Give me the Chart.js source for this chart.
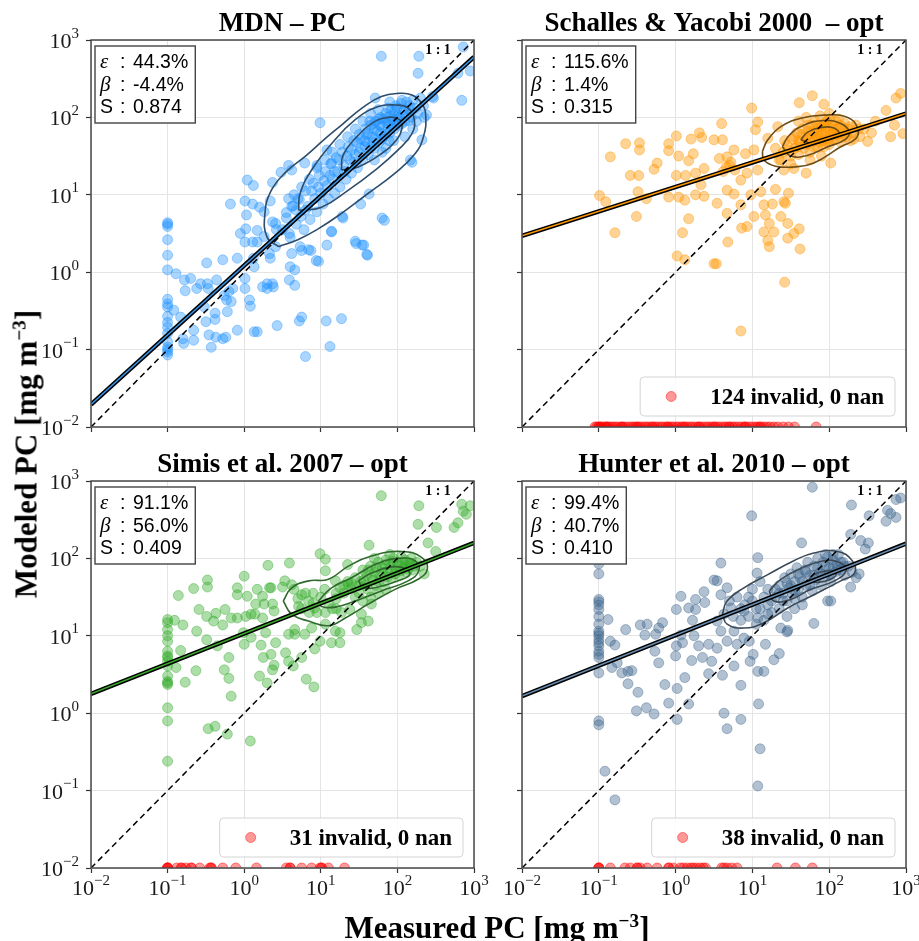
<!DOCTYPE html>
<html>
<head>
<meta charset="utf-8">
<script src="https://cdn.jsdelivr.net/npm/chart.js@4/dist/chart.umd.min.js"></script>
<style>
  html, body { margin: 0; padding: 0; background: #fff; overflow: hidden; }
  #page { position: relative; width: 919px; height: 941px; overflow: hidden; }
  canvas { position: absolute; }
  .axis-label {
    position: absolute; font-family: "Liberation Serif", serif; font-weight: bold;
    font-size: 31px; line-height: 31px; white-space: nowrap; color: #000;
  }
  .axis-label sup { font-size: 0.62em; line-height: 0; vertical-align: 0.55em; }
</style>
</head>
<body>
<div id="page">
  <canvas id="c0" width="494" height="441" style="left:0;top:0"></canvas>
  <canvas id="c1" width="500" height="441" style="left:431px;top:0"></canvas>
  <canvas id="c2" width="494" height="500" style="left:0;top:441px"></canvas>
  <canvas id="c3" width="500" height="500" style="left:431px;top:441px"></canvas>
  <div class="axis-label" style="left:497px;top:927px;transform:translate(-50%,-50%)">Measured PC [mg m<sup>−3</sup>]</div>
  <div class="axis-label" style="left:26px;top:454px;transform:translate(-50%,-50%) rotate(-90deg)">Modeled PC [mg m<sup>−3</sup>]</div>
</div>
<script>
// axis ticks (both axes, log scale)
const tickVals = [0.01, 0.1, 1, 10, 100, 1000];

const panelTitles = ["MDN – PC", "Schalles & Yacobi 2000  – opt", "Simis et al. 2007 – opt", "Hunter et al. 2010 – opt"];
const epsLabels = ["44.3%", "115.6%", "91.1%", "99.4%"];
const betaLabels = ["-4.4%", "1.4%", "56.0%", "40.7%"];
const slopeLabels = ["0.874", "0.315", "0.409", "0.410"];
const invalidCounts = [0, 124, 31, 38];
const nanCounts = [0, 0, 0, 0];

// all point values below are [log10 measured, log10 modeled]
const oneToOne = [[-2, -2], [3, 3]];

const mdnPts = [
  [-1,0.64],[-1,0.62],[-1,0.59],[-1,0.42],[-1,0.22],[-1,0.03],[-1,-0.35],[-1,-0.41],[-1,-0.45],[-1,-0.57],
  [-1,-0.65],[-1,-0.71],[-1,-0.79],[-1,-0.9],[-1,-0.97],[-1,-1.0],[-1,-1.03],[-1,-1.07],
  [-0.89,-0.02],[-0.78,-0.1],[-0.7,-0.08],[-0.77,-0.24],[-0.92,-0.49],[-0.83,-0.58],[-0.8,-0.86],[-0.79,-0.92],
  [-0.66,-0.75],[-0.66,-0.88],[-0.62,-0.21],[-0.57,-0.15],[-0.48,-0.15],[-0.47,-0.21],[-0.49,0.12],[-0.36,-0.1],
  [-0.28,0.16],[-0.52,-0.45],[-0.5,-0.64],[-0.46,-0.81],[-0.43,-0.97],[-0.37,-0.84],[-0.28,-0.86],[-0.24,-0.84],
  [-0.38,-0.53],[-0.38,-0.61],[-0.26,-0.3],[-0.23,-0.36],[-0.2,-0.25],[-0.15,-0.21],[-0.17,-0.38],[-0.22,-0.51],
  [-0.09,-0.75],[-0.09,0.18],[0.01,-0.08],[0.01,-0.21],[0.07,-0.36],[0.08,-0.44],[0.13,-0.77],[0.17,-0.77],
  [0.04,1.19],[0.12,1.12],[-0.18,0.88],[0.01,0.92],[0.11,0.88],[0.03,0.74],[-0.05,0.5],[0.01,0.39],[0.02,0.56],
  [0.12,0.18],[0.13,0.07],[0.17,0.54],[0.11,0.39],[0.17,0.39],[0.24,-0.19],[0.3,-0.15],[0.37,-0.15],[0.38,-0.19],
  [0.3,-0.21],[0.43,-0.69],[0.33,0.24],[0.34,0.18],[0.41,0.33],[0.37,1.16],[0.34,0.92],[0.26,0.78],[0.2,0.84],
  [0.37,0.65],[0.41,0.63],[0.26,0.46],[0.48,1.29],
  [1.79,2.79],[2.28,2.79],[2.86,2.91],[2.79,2.57],[2.95,2.6],[2.84,2.22],[2.27,2.57],[2.46,2.27],[0.99,1.93],
  [1.83,0.67],[1.46,0.37],[1.56,0.35],[1.61,0.22],[0.97,0.14],[1.08,0.35],[0.87,0.28],[0.75,0.28],[0.62,0.24],
  [0.6,0.07],[0.66,0.03],[0.59,-0.1],[0.66,-0.17],[0.75,-0.58],[0.72,-0.63],[1.07,-0.63],[1.27,-0.6],[1.12,-0.96],
  [0.8,-1.09],[1.14,0.53],[1.29,0.7],[1.52,0.88],[1.63,1.01],[2.19,1.42],[2.32,1.71],[2.38,2.03],[2.47,2.25],
  [1.9,2.2],[1.71,2.25],[2.06,2.22],[0.58,1.38],[0.62,1.32],[0.79,1.41],[0.95,1.38],[1.08,1.58],[1.14,1.41],
  [0.42,0.55],[0.55,0.77],[0.64,0.86],[0.72,0.94],[0.59,0.5],[0.73,0.33],[0.84,0.29],[0.94,0.15],[1.14,0.52],
  [1.28,0.72],[1.45,0.4],[1.54,0.35],[1.6,0.23],[1.8,0.7],[2.17,1.45],
  [0.5,0.55],[0.55,0.7],[0.6,0.45],[0.62,0.85],[0.68,0.62],[0.7,0.95],[0.74,0.72],[0.78,0.55],[0.8,1.05],
  [0.83,0.85],[0.86,0.68],[0.9,1.15],[0.92,0.95],[0.95,0.78],[0.98,1.25],[1.0,1.02],[1.03,0.88],[1.06,1.3],
  [1.08,1.12],[1.1,0.95],[1.13,1.4],[1.15,1.2],[1.18,1.02],[1.2,1.48],[1.22,1.3],[1.25,1.1],[1.28,1.55],
  [1.3,1.38],[1.33,1.2],[1.36,1.62],[1.38,1.45],[1.4,1.28],[1.43,1.7],[1.45,1.52],[1.48,1.35],[1.5,1.78],
  [1.52,1.6],[1.55,1.45],[1.58,1.85],[1.6,1.68],[1.62,1.52],[1.65,1.9],[1.67,1.75],[1.7,1.6],[1.72,1.95],
  [1.74,1.82],[1.76,1.68],[1.78,2.0],[1.8,1.88],[1.82,1.75],[1.85,2.05],[1.87,1.92],[1.9,1.8],[1.92,2.1],
  [1.94,1.98],[1.96,1.85],[1.98,2.15],[2.0,2.02],[2.02,1.9],[2.05,2.18],[2.07,2.06],[2.1,1.95],[2.12,2.2],
  [2.15,2.1],[2.18,2.0],[2.2,2.22],[2.23,2.12],[2.26,2.05],[2.3,2.25],[2.34,2.15],[1.55,1.95],[1.65,2.05],
  [1.75,2.1],[1.85,1.6],[1.95,1.7],[1.45,1.85],[1.35,1.75],[1.25,1.65],[1.15,1.55],[1.05,1.45],[0.95,1.35],
  [0.85,1.2],[0.75,1.1],[0.65,1.0],[0.58,0.95],[1.7,1.45],[1.8,1.55],[2.1,1.75],[2.2,1.85],[2.35,2.0],
  [1.6,1.78],[1.7,1.85],[1.8,1.72],[1.9,1.95],[2.0,1.98],[1.88,1.88],[1.78,1.8],[1.68,1.68],[1.58,1.62],
  [1.52,1.72],[1.57,1.7],[1.62,1.8],[1.66,1.62],[1.69,1.92],[1.73,1.72],[1.77,1.9],[1.81,1.98],[1.84,1.78],
  [1.86,2.0],[1.89,1.7],[1.91,2.02],[1.93,1.88],[1.97,2.08],[1.99,1.92],[2.03,2.0],[2.06,1.92],[2.09,2.1],
  [2.11,2.03],[2.14,1.96],[2.16,2.15],[1.4,1.58],[1.44,1.42],[1.47,1.68],[1.5,1.55],[1.34,1.5],[1.31,1.3],
  [1.24,1.45],[1.18,1.3],[1.12,1.25],[1.04,1.18],[0.97,1.1],[0.88,1.05],[0.8,0.8],[0.68,0.8],[1.88,2.12],
  [2.0,2.12],[1.76,1.98],[1.64,1.95],[2.25,1.95]
];
const mdnFit = [[-2, -1.71], [3, 2.78]];
const mdnContours = [
  [[0.45,0.33],[0.7,0.42],[0.95,0.55],[1.27,0.76],[1.62,1.02],[1.97,1.28],[2.23,1.53],[2.34,1.75],[2.37,2.01],
   [2.32,2.18],[2.19,2.29],[2.01,2.31],[1.79,2.27],[1.55,2.13],[1.27,1.9],[1.05,1.72],[0.8,1.5],[0.55,1.3],
   [0.35,1.05],[0.27,0.75],[0.3,0.45]],
  [[0.71,0.8],[1.01,0.84],[1.36,1.06],[1.71,1.32],[2.01,1.58],[2.19,1.79],[2.22,1.97],[2.14,2.12],[1.97,2.16],
   [1.75,2.14],[1.45,1.97],[1.14,1.66],[0.88,1.32],[0.73,1.02]],
  [[1.27,1.32],[1.49,1.36],[1.79,1.53],[1.99,1.71],[2.06,1.86],[2.03,1.97],[1.88,2.0],[1.66,1.92],[1.45,1.73],[1.29,1.51]]
];
const mdnInvalid = [];

const syPts = [
  [-0.85,1.49],[-0.65,1.66],[-0.47,1.67],[-0.47,1.58],[-0.59,1.25],[-0.48,1.25],[-0.28,1.33],[-0.24,1.41],
  [-0.99,0.99],[-0.91,0.91],[-0.49,1.04],[-0.38,0.95],[-0.51,0.72],[-0.79,0.51],[-0.09,1.66],[-0.09,1.57],
  [0.01,1.76],[0.04,1.5],[0.2,1.72],[0.31,1.8],[0.34,1.74],[0.23,1.53],[0.17,1.44],[0.01,1.25],[0.13,1.25],
  [0.26,1.28],[0.37,1.34],[0.33,1.13],[-0.09,0.97],[0.04,0.97],[0.12,0.93],[0.26,1.0],[0.37,0.98],[0.17,0.69],
  [0.09,0.51],[0.02,0.21],[0.12,0.16],[0.5,1.71],[0.5,0.11],
  [0.99,2.12],[1.61,2.19],[1.78,2.28],[1.93,2.17],[2.93,2.31],[2.87,2.25],[2.74,2.09],[2.85,1.9],[2.8,1.75],
  [2.96,1.79],[2.5,1.69],[0.6,1.92],[0.61,1.71],[1.07,1.94],[1.04,1.84],[1.42,-0.13],[0.85,-0.76],[0.53,0.11],
  [0.68,0.39],[0.67,0.76],[0.54,0.89],[0.85,0.87],[0.86,0.57],[0.93,0.59],[1.02,0.72],[1.15,0.87],[1.26,0.88],
  [1.17,0.74],[1.22,0.63],[1.15,0.52],[1.2,0.41],[1.22,0.33],[1.28,0.52],[1.37,0.72],[1.43,0.89],[1.46,0.63],
  [1.54,0.5],[1.61,0.56],[1.46,0.44],[1.62,0.3],[1.41,0.91],[1.47,1.02],[1.3,1.07],[0.98,1.0],[1.11,1.04],
  [0.76,1.01],[0.67,1.06],[0.85,1.19],[0.93,1.28],[1.07,1.32],[0.77,1.32],[0.67,1.49],[0.76,1.58],[0.91,1.53],
  [1.02,1.58],[0.57,1.47],[1.37,1.45],[1.41,1.32],[1.54,1.34],[1.7,1.28],[2.02,1.41],[1.2,1.73],[1.33,1.88],
  [0.62,1.3],[0.7,1.38],[0.72,1.42],[0.66,1.36],
  [1.4,1.55],[1.45,1.65],[1.5,1.5],[1.52,1.72],[1.55,1.6],[1.58,1.8],[1.6,1.52],[1.62,1.68],[1.65,1.85],
  [1.67,1.6],[1.7,1.75],[1.72,1.9],[1.75,1.55],[1.77,1.68],[1.8,1.8],[1.82,1.95],[1.85,1.62],[1.87,1.75],
  [1.9,1.88],[1.92,1.7],[1.95,1.82],[1.97,1.95],[2.0,1.65],[2.02,1.78],[2.05,1.9],[2.07,1.72],[2.1,1.85],
  [2.12,1.98],[2.15,1.68],[2.17,1.8],[2.2,1.92],[2.22,1.75],[2.25,1.85],[2.28,1.7],[2.3,1.8],[2.35,1.9],
  [2.4,1.75],[1.6,1.95],[1.7,2.0],[1.88,2.02],[2.0,2.05],[1.75,1.45],[1.9,1.5],[1.5,1.4],[1.35,1.45],[1.3,1.6],
  [2.45,1.85],[2.55,1.8],[2.6,1.95],[1.85,1.85],[1.95,1.75],[1.8,1.7],[2.05,1.8],[1.92,1.9],[1.78,1.82],
  [1.55,1.75],[1.6,1.7],[1.65,1.78],[1.68,1.65],[1.72,1.82],[1.74,1.72],[1.78,1.9],[1.8,1.62],[1.83,1.78],
  [1.86,1.9],[1.88,1.68],[1.9,1.8],[1.93,1.62],[1.94,1.93],[1.97,1.7],[1.99,1.88],[2.01,1.98],[2.03,1.72],
  [2.06,1.85],[2.09,1.95],[2.11,1.78],[2.14,1.9],[2.16,1.74],[2.19,1.86],[2.23,1.8],[2.27,1.88],[2.32,1.72],
  [1.46,1.58],[1.42,1.7],[1.58,1.62],[2.38,1.85],[2.0,1.72],[1.85,1.72],[1.7,1.7],[1.96,1.86],[2.08,1.78]
];
const syFit = [[-2, 0.47], [3, 2.05]];
const syContours = [
  [[1.13,1.56],[1.2,1.71],[1.37,1.88],[1.63,1.99],[1.93,2.03],[2.24,2.0],[2.37,1.86],[2.35,1.73],[2.15,1.62],
   [1.8,1.41],[1.54,1.36],[1.3,1.37],[1.15,1.45]],
  [[1.39,1.62],[1.48,1.77],[1.67,1.9],[1.93,1.96],[2.15,1.92],[2.26,1.81],[2.2,1.71],[1.98,1.62],[1.72,1.51],[1.5,1.5]],
  [[1.63,1.71],[1.72,1.81],[1.89,1.87],[2.07,1.86],[2.13,1.77],[1.98,1.71],[1.8,1.66]]
];
const syInvalid = [
  -1.05,-1.03,-1.0,-0.98,-0.96,-0.93,-0.9,-0.88,-0.85,-0.82,-0.79,-0.76,-0.72,-0.69,-0.66,-0.62,-0.58,-0.55,
  -0.52,-0.48,-0.45,-0.41,-0.38,-0.35,-0.31,-0.27,-0.24,-0.2,-0.17,-0.13,-0.1,-0.06,-0.03,0.01,0.04,0.08,0.12,
  0.15,0.19,0.22,0.26,0.3,0.33,0.37,0.41,0.44,0.48,0.52,0.55,0.59,0.63,0.66,0.7,0.74,0.77,0.81,0.85,0.89,0.92,
  0.96,1.0,1.04,1.07,1.11,1.15,1.19,1.23,1.28,1.33,1.4,1.47,1.55,1.83,
  -1.0,-0.9,-0.7,-0.5,-0.3,-0.1,0.1,0.3,0.5,0.7,0.9,1.1
];

const simisPts = [
  [-1,1.21],[-1,1.17],[-1,1.08],[-1,1.0],[-1,0.93],[-1,0.8],[-1,0.74],[-1,0.72],[-1,0.67],[-1,0.61],[-1,0.48],
  [-1,0.41],[-1,0.39],[-1,0.37],[-1,0.07],[-1,-0.1],[-1,-0.62],
  [-0.86,1.52],[-0.66,1.61],[-0.48,1.72],[-0.48,1.63],[-0.91,1.2],[-0.8,1.14],[-0.59,1.34],[-0.49,1.25],
  [-0.37,1.29],[-0.4,1.19],[-0.62,1.06],[-0.49,0.95],[-0.35,0.87],[-0.28,1.14],[-0.25,1.34],[-0.17,1.23],
  [-0.09,1.23],[0.0,1.77],[-0.09,1.62],[-0.09,1.53],[0.04,1.51],[0.02,1.25],[0.09,1.28],[0.14,1.28],[0.17,1.6],
  [0.24,1.51],[0.15,1.41],[0.26,1.41],[0.33,1.62],[0.35,1.62],[0.37,1.41],[0.39,1.32],[0.31,1.91],[0.24,1.23],
  [-0.01,1.04],[0.0,0.89],[0.09,0.98],[0.22,0.88],[0.28,1.04],[0.41,0.91],[0.35,0.76],[0.25,0.72],[0.39,0.62],
  [0.37,0.56],[0.2,0.48],[0.3,0.39],[-0.83,0.81],[-0.89,0.59],[-0.77,0.4],[-0.63,0.55],[-0.2,0.72],[-0.26,0.56],
  [-0.2,0.45],[-0.17,0.22],[-0.47,-0.2],[-0.38,-0.17],[-0.22,-0.27],[0.08,-0.36],[0.5,1.63],
  [1.79,2.81],[2.28,2.68],[2.27,2.44],[2.51,2.4],[2.4,2.2],[2.5,2.09],[2.74,2.4],[2.79,2.46],[2.86,2.61],
  [2.84,2.7],[2.95,2.68],[2.9,2.57],[1.63,2.17],[0.99,2.06],[1.06,1.99],[0.59,1.94],[1.35,1.92],[0.81,0.44],
  [0.91,0.34],[0.54,0.78],[0.64,0.61],[0.58,0.67],[0.75,0.72],[0.92,0.83],[0.99,0.93],[1.14,0.91],[1.25,0.91],
  [0.79,1.02],[0.66,1.02],[0.66,1.08],[0.88,1.1],[0.58,1.02],[1.06,1.15],[1.19,1.06],[1.25,1.04],[1.47,1.08],
  [1.53,1.17],[1.62,1.19],[1.53,1.28],[1.66,1.41],[1.06,1.84],[1.19,1.71],[1.36,1.66],[0.53,1.71],[0.62,1.66],
  [0.75,1.53],[0.84,1.45],[0.71,1.38],[0.92,1.36],[1.06,1.3],[1.27,1.3],[1.38,1.34],
  [1.4,1.62],[1.45,1.75],[1.5,1.55],[1.52,1.7],[1.55,1.85],[1.58,1.65],[1.6,1.78],[1.62,1.6],[1.65,1.9],
  [1.68,1.72],[1.7,1.82],[1.72,1.65],[1.75,1.95],[1.78,1.78],[1.8,1.88],[1.82,1.7],[1.85,1.98],[1.88,1.82],
  [1.9,1.92],[1.92,1.75],[1.95,2.0],[1.98,1.85],[2.0,1.95],[2.02,1.78],[2.05,2.02],[2.08,1.88],[2.1,1.98],
  [2.12,1.82],[2.15,1.92],[2.18,2.0],[2.2,1.85],[2.25,1.95],[2.3,1.9],[2.35,1.8],[1.3,1.55],[1.2,1.48],
  [1.1,1.42],[1.0,1.5],[0.9,1.42],[0.8,1.55],[0.7,1.48],[0.65,1.6],[0.75,1.35],[0.95,1.3],[1.15,1.35],
  [1.25,1.62],[1.35,1.7],[1.45,1.5],[1.55,1.45],[1.65,1.5],[1.75,1.55],[1.85,1.6],[1.7,2.0],[1.9,2.05],
  [1.62,1.85],[1.67,1.75],[1.72,1.88],[1.76,1.7],[1.8,1.82],[1.84,1.92],[1.87,1.76],[1.91,1.86],[1.94,1.96],
  [1.97,1.8],[2.01,1.9],[2.04,1.84],[2.07,1.95],[2.11,1.9],[2.14,1.86],[2.17,1.94],[2.22,1.9],[1.5,1.65],
  [1.56,1.72],[1.4,1.68],[1.3,1.65],[1.2,1.55],[0.9,1.55],[1.05,1.6],[1.2,1.35],[0.85,1.3]
];
const simisFit = [[-2, 0.25], [3, 2.2]];
const simisContours = [
  [[0.51,1.45],[0.62,1.62],[0.84,1.71],[1.1,1.73],[1.36,1.9],[1.66,2.03],[2.06,2.09],[2.32,2.01],[2.39,1.86],
   [2.27,1.73],[1.97,1.6],[1.62,1.41],[1.32,1.23],[1.1,1.13],[0.84,1.19],[0.62,1.28]],
  [[0.97,1.45],[1.14,1.62],[1.4,1.75],[1.71,1.92],[2.01,2.0],[2.23,1.97],[2.28,1.84],[2.14,1.71],[1.79,1.58],
   [1.45,1.45],[1.19,1.37],[1.01,1.38]],
  [[1.49,1.71],[1.66,1.81],[1.92,1.89],[2.1,1.87],[2.16,1.79],[2.01,1.71],[1.75,1.63],[1.56,1.62]]
];
const simisInvalid = [
  -1.0,-1.0,-1.0,-1.0,-0.88,-0.82,-0.82,-0.76,-0.69,-0.69,-0.58,-0.45,-0.43,-0.43,-0.28,-0.11,0.16,0.55,0.6,
  0.6,0.75,0.88,0.99,1.01,1.01,1.1,1.31
];

const hunterPts = [
  [-1,1.93],[-1,1.8],[-1,1.47],[-1,1.44],[-1,1.4],[-1,1.34],[-1,1.25],[-1,1.15],[-1,1.06],[-1,1.03],[-1,1.0],
  [-1,0.95],[-1,0.91],[-1,0.87],[-1,0.8],[-1,0.76],[-1,0.72],[-1,0.52],[-1,-0.1],[-1,-0.15],
  [-0.88,1.21],[-0.85,0.93],[-0.79,0.88],[-0.76,0.65],[-0.83,0.59],[-0.7,0.52],[-0.62,0.54],[-0.57,0.55],
  [-0.62,0.38],[-0.49,0.27],[-0.65,1.08],[-0.46,1.14],[-0.37,1.15],[-0.4,1.01],[-0.26,1.02],[-0.22,1.1],
  [-0.17,1.17],[-0.27,0.8],[-0.22,0.65],[-0.14,0.37],[-0.09,0.13],[0.02,0.32],[0.12,0.46],[0.17,0.12],
  [0.02,-0.08],[-0.28,-0.01],[-0.38,0.07],[-0.51,0.03],[0.0,0.74],[0.01,0.87],[0.09,0.91],[0.07,1.01],
  [0.01,1.34],[0.07,1.51],[0.17,1.36],[0.26,1.47],[0.26,1.34],[0.37,1.57],[0.38,1.43],[0.22,1.2],[0.24,1.0],
  [0.3,0.87],[0.21,0.68],[0.35,0.72],[0.43,0.51],[0.43,0.89],[0.47,0.67],[0.5,1.72],[-0.92,-0.75],[-0.79,-1.12],
  [1.78,2.92],[0.99,2.55],[2.29,2.69],[2.52,2.55],[2.28,2.31],[2.41,2.23],[2.51,2.2],[2.47,2.12],[2.76,2.62],
  [2.8,2.58],[2.87,2.53],[2.74,2.48],[2.93,2.78],[2.87,2.76],[1.64,2.2],[1.07,2.01],[0.59,1.94],[1.06,1.81],
  [1.8,1.16],[2.02,1.45],[1.98,1.45],[2.28,1.63],[2.39,1.8],[1.45,1.05],[1.35,0.77],[1.28,0.69],[1.07,0.54],
  [1.15,0.54],[0.97,0.67],[1.01,0.76],[1.17,0.89],[0.96,0.93],[0.85,0.36],[0.76,0.61],[0.61,0.49],[0.63,0.0],
  [0.85,-0.08],[0.67,-0.2],[1.08,0.12],[1.1,-0.46],[1.07,-0.94],[0.54,0.84],[0.67,0.93],[0.8,0.89],[0.89,0.97],
  [0.59,1.06],[0.76,1.06],[1.37,1.1],[1.46,1.07],[0.54,1.19],[0.63,1.28],[0.54,1.71],[0.67,1.62],[0.59,1.53],
  [0.72,1.36],[0.89,1.32],[1.07,1.23],[1.2,1.28],
  [1.3,1.5],[1.35,1.65],[1.4,1.55],[1.42,1.75],[1.45,1.45],[1.48,1.62],[1.5,1.8],[1.52,1.55],[1.55,1.7],
  [1.58,1.88],[1.6,1.6],[1.62,1.75],[1.65,1.5],[1.68,1.85],[1.7,1.65],[1.72,1.95],[1.75,1.78],[1.78,1.58],
  [1.8,1.9],[1.82,1.72],[1.85,2.0],[1.88,1.82],[1.9,1.65],[1.92,1.95],[1.95,1.78],[1.98,2.02],[2.0,1.88],
  [2.02,1.7],[2.05,1.98],[2.08,1.82],[2.1,1.92],[2.12,2.05],[2.15,1.85],[2.18,1.95],[2.2,1.78],[2.25,1.9],
  [2.3,1.82],[2.35,1.75],[1.2,1.4],[1.1,1.35],[1.0,1.45],[0.9,1.4],[0.8,1.5],[0.7,1.45],[0.75,1.25],[0.85,1.2],
  [0.95,1.25],[1.05,1.15],[1.15,1.2],[1.25,1.3],[1.0,1.6],[1.1,1.7],[1.2,1.6],[1.35,1.35],[1.45,1.25],
  [1.55,1.35],[1.65,1.4],
  [1.5,1.65],[1.55,1.58],[1.6,1.8],[1.65,1.7],[1.7,1.82],[1.75,1.65],[1.8,1.78],[1.85,1.88],[1.9,1.8],
  [1.95,1.9],[2.0,1.8],[2.05,1.9],[2.1,1.85],[2.15,1.95],[2.2,1.9],[1.4,1.45],[1.3,1.6],[1.25,1.45],[1.15,1.5],
  [1.05,1.35],[0.95,1.5],[0.85,1.35],[1.35,1.55],[1.45,1.68],[1.55,1.48],[1.95,2.05],[2.05,2.05]
];
const hunterFit = [[-2, 0.22], [3, 2.19]];
const hunterContours = [
  [[0.61,1.28],[0.67,1.45],[0.89,1.62],[1.2,1.79],[1.54,1.97],[1.8,2.07],[2.11,2.09],[2.3,1.97],[2.33,1.81],
   [2.15,1.71],[1.8,1.53],[1.46,1.36],[1.15,1.17],[0.89,1.1],[0.67,1.15]],
  [[1.22,1.58],[1.37,1.73],[1.63,1.87],[1.93,1.97],[2.15,1.94],[2.22,1.84],[2.07,1.71],[1.76,1.6],[1.5,1.47],[1.28,1.45]],
  [[1.72,1.71],[1.8,1.79],[1.98,1.84],[2.09,1.81],[2.02,1.73],[1.85,1.69]]
];
const hunterInvalid = [
  -1.0,-1.0,-1.0,-0.85,-0.66,-0.59,-0.5,-0.5,-0.46,-0.37,-0.24,-0.09,-0.09,-0.03,0.06,0.1,0.15,0.2,0.23,0.27,
  0.32,0.36,0.39,0.6,0.63,0.67,0.73,0.8,1.32,1.56,1.78
];

// styles
const pointColors = ["rgba(30,144,255,0.38)", "rgba(255,150,0,0.42)", "rgba(50,170,40,0.4)", "rgba(60,100,140,0.4)"];
const lineColors = ["#3a96e8", "#ff9900", "#3aaa2a", "#6a8fb3"];
const contourColors = ["#2d4d6c", "#6e4d17", "#2f6a2c", "#3c4a58"];
const serif = '"Liberation Serif", "DejaVu Serif", serif';
const sans = '"Liberation Sans", Arial, sans-serif';

const toXY = arr => arr.map(([lx, ly]) => ({ x: Math.pow(10, lx), y: Math.pow(10, ly) }));

function drawPow(ctx, v, x, baseline, align) {
  let e = Math.round(Math.log10(v));
  let exp = (e < 0 ? "−" : "") + Math.abs(e);
  ctx.textAlign = "left";
  ctx.textBaseline = "alphabetic";
  ctx.font = "22px " + serif;
  let wb = ctx.measureText("10").width;
  ctx.font = "15px " + serif;
  let we = ctx.measureText(exp).width;
  let x0 = align === "center" ? x - (wb + we) / 2 : x - (wb + we);
  ctx.font = "22px " + serif;
  ctx.fillText("10", x0, baseline);
  ctx.font = "15px " + serif;
  ctx.fillText(exp, x0 + wb, baseline - 10.5);
}

// frame, tick labels, stats box, legend, 1:1 label
const decoPlugin = {
  id: "panelDeco",
  afterDraw(chart, args, opts) {
    let ctx = chart.ctx;
    let a = chart.chartArea;
    ctx.save();
    ctx.fillStyle = "#1a1a1a";
    if (opts.xLabels) {
      tickVals.forEach(v => drawPow(ctx, v, chart.scales.x.getPixelForValue(v), a.bottom + 27, "center"));
    }
    if (opts.yLabels) {
      tickVals.forEach(v => drawPow(ctx, v, a.left - 12, chart.scales.y.getPixelForValue(v) + 8, "right"));
    }

    ctx.strokeStyle = "#474747";
    ctx.lineWidth = 1.5;
    ctx.strokeRect(a.left, a.top, a.right - a.left, a.bottom - a.top);

    ctx.fillStyle = "#000";
    ctx.font = "bold 14px " + serif;
    ctx.textAlign = "center";
    ctx.textBaseline = "middle";
    ctx.fillText("1 : 1", a.right - 36, a.top + 10);

    // stats box
    let bx = a.left + 4, by = a.top + 6, bh = 77;
    ctx.font = "19.5px " + sans;
    let vw = Math.max(...[opts.eps, opts.beta, opts.slope].map(t => ctx.measureText(t).width));
    let bw = 38 + vw + 7;
    ctx.fillStyle = "#fff";
    ctx.fillRect(bx, by, bw, bh);
    ctx.strokeStyle = "#444";
    ctx.lineWidth = 1.4;
    ctx.strokeRect(bx, by, bw, bh);
    ctx.fillStyle = "#000";
    ctx.textAlign = "left";
    ctx.textBaseline = "alphabetic";
    let rows = [["ε", opts.eps, true], ["β", opts.beta, true], ["S", opts.slope, false]];
    rows.forEach((r, i) => {
      let yb = by + 22 + i * 22.5;
      ctx.font = r[2] ? "italic 21px " + serif : "19.5px " + sans;
      ctx.fillText(r[0], bx + 5, yb);
      ctx.font = "19.5px " + sans;
      ctx.fillText(":", bx + 25, yb);
      ctx.fillText(r[1], bx + 38, yb);
    });

    // invalid legend
    if (opts.invalid > 0) {
      let txt = opts.invalid + " invalid, " + opts.nan + " nan";
      ctx.font = "bold 23px " + serif;
      let tw = ctx.measureText(txt).width;
      let w = 70 + tw + 11, h = 39;
      let lx = a.right - 11 - w, ly = a.bottom - 11 - h;
      ctx.beginPath();
      ctx.roundRect(lx, ly, w, h, 4);
      ctx.fillStyle = "rgba(255,255,255,0.85)";
      ctx.fill();
      ctx.strokeStyle = "#d4d4d4";
      ctx.lineWidth = 1;
      ctx.stroke();
      ctx.beginPath();
      ctx.arc(lx + 31, ly + h / 2, 5, 0, Math.PI * 2);
      ctx.fillStyle = "rgba(255,0,0,0.4)";
      ctx.fill();
      ctx.strokeStyle = "rgba(255,0,0,0.45)";
      ctx.stroke();
      ctx.fillStyle = "#000";
      ctx.fillText(txt, lx + 70, ly + 26.5);
    }
    ctx.restore();
  }
};

function buildPanel(idx, pts, fit, contours, invalid) {
  let isTop = idx < 2;
  let isLeft = idx % 2 === 0;
  let datasets = [
    { data: toXY(fit), showLine: true, borderColor: lineColors[idx], borderWidth: 1.5, pointRadius: 0, order: 0 },
    { data: toXY(fit), showLine: true, borderColor: "#000", borderWidth: 4.5, pointRadius: 0, order: 1 },
    { data: toXY(oneToOne), showLine: true, borderColor: "#000", borderWidth: 1.5, borderDash: [6, 4], pointRadius: 0, order: 2 },
    {
      data: invalid.map(lx => ({ x: Math.pow(10, lx), y: 0.01 })),
      backgroundColor: "rgba(255,0,0,0.4)", borderColor: "rgba(255,0,0,0.45)",
      borderWidth: 1, pointRadius: 5, order: 4
    },
    {
      data: toXY(pts), backgroundColor: pointColors[idx], borderColor: pointColors[idx],
      borderWidth: 1, pointRadius: 5, order: 5
    }
  ];
  contours.forEach(c => {
    datasets.push({
      data: toXY([...c, c[0]]), showLine: true, tension: 0.45, borderColor: contourColors[idx],
      borderWidth: 1.6, pointRadius: 0, order: 3
    });
  });

  let axis = (size) => ({
    type: "logarithmic",
    min: 0.01,
    max: 1000,
    afterBuildTicks: s => { s.ticks = tickVals.map(v => ({ value: v })); },
    afterFit: size,
    ticks: { display: false },
    grid: { color: "#e4e4e4", lineWidth: 1, tickColor: "#333", tickLength: 5, tickWidth: 1.2 },
    border: { display: false }
  });

  let xAxisH = isTop ? 14 : 73;
  let rightPad = isLeft ? 20 : 25;

  new Chart(document.getElementById("c" + idx), {
    type: "scatter",
    data: { datasets },
    options: {
      responsive: false,
      animation: false,
      events: [],
      layout: { padding: { left: 0, top: 0, right: rightPad, bottom: 0 } },
      scales: {
        x: axis(s => { s.height = xAxisH; }),
        y: axis(s => { s.width = 91; })
      },
      plugins: {
        legend: { display: false },
        tooltip: { enabled: false },
        title: {
          display: true,
          text: panelTitles[idx],
          fullSize: false,
          color: "#000",
          font: { family: serif, size: 27, weight: "bold", lineHeight: 1.2 },
          padding: { top: 7.6, bottom: 0 }
        },
        panelDeco: {
          xLabels: !isTop,
          yLabels: isLeft,
          eps: epsLabels[idx],
          beta: betaLabels[idx],
          slope: slopeLabels[idx],
          invalid: invalidCounts[idx],
          nan: nanCounts[idx]
        }
      }
    },
    plugins: [decoPlugin]
  });
}

buildPanel(0, mdnPts, mdnFit, mdnContours, mdnInvalid);
buildPanel(1, syPts, syFit, syContours, syInvalid);
buildPanel(2, simisPts, simisFit, simisContours, simisInvalid);
buildPanel(3, hunterPts, hunterFit, hunterContours, hunterInvalid);
</script>
</body>
</html>
